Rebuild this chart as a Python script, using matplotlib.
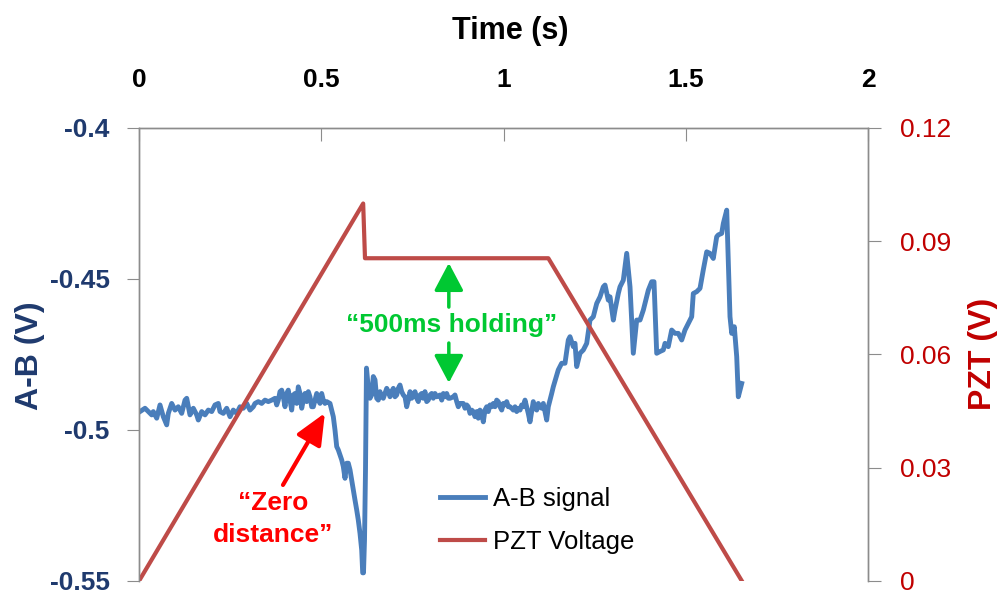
import numpy as np
import matplotlib
matplotlib.use("Agg")
import matplotlib.pyplot as plt

plt.rcParams['font.family'] = ['Liberation Sans Narrow', 'Liberation Sans', 'DejaVu Sans']

# A-B photodiode signal (V) against time (s)
ab_time = [
    0.0027, 0.0165, 0.0255, 0.0348, 0.0392, 0.0486, 0.0576, 0.0667, 0.0760, 0.0804,
    0.0897, 0.0988, 0.1078, 0.1171, 0.1262, 0.1309, 0.1399, 0.1490, 0.1583, 0.1627,
    0.1720, 0.1811, 0.1901, 0.1995, 0.2085, 0.2176, 0.2222, 0.2313, 0.2406, 0.2497,
    0.2587, 0.2680, 0.2771, 0.2862, 0.2955, 0.3045, 0.3136,
    0.3182, 0.3273, 0.3366, 0.3457, 0.3547, 0.3641, 0.3731, 0.3778, 0.3822, 0.3868,
    0.3915, 0.3959, 0.4006, 0.4052, 0.4096, 0.4143, 0.4189, 0.4233, 0.4280, 0.4327,
    0.4370, 0.4417, 0.4464, 0.4508, 0.4554, 0.4601, 0.4645, 0.4691, 0.4738, 0.4782,
    0.4829, 0.4875, 0.4919, 0.4966, 0.5012, 0.5056, 0.5103, 0.5150, 0.5240,
    0.5331, 0.5377, 0.5424, 0.5468, 0.5561, 0.5605, 0.5652, 0.5698, 0.5742, 0.5789,
    0.5835, 0.5879, 0.5926, 0.5973, 0.6016, 0.6063, 0.6110, 0.6137, 0.6159, 0.6187,
    0.6214, 0.6241,
    0.6291, 0.6337, 0.6384, 0.6428, 0.6475, 0.6521, 0.6565, 0.6612, 0.6658, 0.6702,
    0.6749, 0.6796, 0.6840, 0.6886, 0.6933, 0.6977, 0.7023, 0.7070, 0.7114, 0.7160,
    0.7207, 0.7251, 0.7298, 0.7344, 0.7388, 0.7435, 0.7482, 0.7525, 0.7572, 0.7619,
    0.7663, 0.7709, 0.7756, 0.7800, 0.7846, 0.7893, 0.7937, 0.7984, 0.8030, 0.8074,
    0.8121, 0.8167, 0.8258, 0.8305, 0.8349, 0.8395, 0.8442, 0.8486,
    0.8532, 0.8623, 0.8669, 0.8716, 0.8760, 0.8807, 0.8897, 0.8944, 0.8990, 0.9034,
    0.9081, 0.9128, 0.9171, 0.9218, 0.9265, 0.9309, 0.9355, 0.9402, 0.9446, 0.9492,
    0.9539, 0.9583, 0.9630, 0.9676, 0.9720, 0.9767, 0.9813, 0.9857, 0.9904, 0.9951,
    0.9995, 1.0041, 1.0088, 1.0132, 1.0178, 1.0225, 1.0269, 1.0316, 1.0362, 1.0406,
    1.0453, 1.0499, 1.0543, 1.0590, 1.0636, 1.0680, 1.0727, 1.0774, 1.0817, 1.0864,
    1.0911, 1.0955, 1.1001, 1.1048, 1.1092, 1.1139, 1.1185, 1.1229, 1.1276, 1.1322,
    1.1366, 1.1503, 1.1596, 1.1687, 1.1778, 1.1824, 1.1915, 1.1962, 1.2008, 1.2099,
    1.2190, 1.2283, 1.2373, 1.2464, 1.2557, 1.2648, 1.2738, 1.2785, 1.2875, 1.2922,
    1.3013, 1.3059, 1.3150, 1.3196, 1.3287, 1.3380, 1.3471, 1.3561, 1.3654, 1.3745,
    1.3836, 1.3882, 1.3973, 1.4066, 1.4129, 1.4203, 1.4294, 1.4384, 1.4431, 1.4521,
    1.4614, 1.4705, 1.4796, 1.4889, 1.4979, 1.5070, 1.5163, 1.5207, 1.5300, 1.5391,
    1.5481, 1.5575, 1.5665, 1.5756, 1.5849, 1.5893, 1.5986, 1.6031, 1.6124, 1.6214,
    1.6261, 1.6332, 1.6398, 1.6442, 1.6488, 1.6535,
]
ab_signal = [
    -0.4939, -0.4928, -0.4939, -0.4950, -0.4939, -0.4961, -0.4917, -0.4956, -0.4983, -0.4945,
    -0.4912, -0.4934, -0.4923, -0.4945, -0.4901, -0.4895, -0.4950, -0.4928, -0.4950, -0.4967,
    -0.4939, -0.4950, -0.4934, -0.4939, -0.4917, -0.4912, -0.4939, -0.4945, -0.4928, -0.4956,
    -0.4934, -0.4945, -0.4923, -0.4928, -0.4912, -0.4934, -0.4923,
    -0.4912, -0.4906, -0.4912, -0.4901, -0.4906, -0.4901, -0.4895, -0.4917, -0.4901, -0.4873,
    -0.4868, -0.4890, -0.4923, -0.4879, -0.4868, -0.4901, -0.4934, -0.4884, -0.4879, -0.4912,
    -0.4857, -0.4879, -0.4928, -0.4901, -0.4879, -0.4906, -0.4873, -0.4890, -0.4923, -0.4923,
    -0.4901, -0.4879, -0.4901, -0.4912, -0.4879, -0.4901, -0.4912, -0.4906, -0.4912,
    -0.4956, -0.5000, -0.5055, -0.5066, -0.5099, -0.5121, -0.5160, -0.5110, -0.5110, -0.5132,
    -0.5166, -0.5199, -0.5232, -0.5265, -0.5298, -0.5342, -0.5398, -0.5473, -0.5473, -0.5364,
    -0.5132, -0.4795,
    -0.4862, -0.4895, -0.4884, -0.4823, -0.4834, -0.4895, -0.4901, -0.4873, -0.4890, -0.4895,
    -0.4879, -0.4862, -0.4873, -0.4890, -0.4873, -0.4862, -0.4890, -0.4884, -0.4862, -0.4851,
    -0.4873, -0.4884, -0.4890, -0.4923, -0.4901, -0.4873, -0.4895, -0.4884, -0.4873, -0.4895,
    -0.4906, -0.4884, -0.4879, -0.4895, -0.4873, -0.4906, -0.4901, -0.4884, -0.4879, -0.4895,
    -0.4879, -0.4890, -0.4884, -0.4901, -0.4879, -0.4890, -0.4879, -0.4895,
    -0.4895, -0.4890, -0.4884, -0.4906, -0.4923, -0.4912, -0.4912, -0.4928, -0.4917, -0.4923,
    -0.4945, -0.4934, -0.4939, -0.4956, -0.4939, -0.4961, -0.4934, -0.4945, -0.4973, -0.4934,
    -0.4923, -0.4939, -0.4917, -0.4923, -0.4912, -0.4923, -0.4901, -0.4906, -0.4923, -0.4934,
    -0.4912, -0.4917, -0.4906, -0.4923, -0.4923, -0.4928, -0.4934, -0.4923, -0.4939, -0.4928,
    -0.4934, -0.4917, -0.4923, -0.4901, -0.4923, -0.4945, -0.4973, -0.4939, -0.4906, -0.4928,
    -0.4934, -0.4912, -0.4923, -0.4928, -0.4912, -0.4939, -0.4967, -0.4923, -0.4901, -0.4879,
    -0.4857, -0.4801, -0.4779, -0.4779, -0.4702, -0.4691, -0.4724, -0.4713, -0.4790, -0.4746,
    -0.4735, -0.4713, -0.4636, -0.4625, -0.4581, -0.4559, -0.4526, -0.4520, -0.4570, -0.4559,
    -0.4636, -0.4603, -0.4548, -0.4526, -0.4504, -0.4415, -0.4526, -0.4746, -0.4636, -0.4636,
    -0.4603, -0.4581, -0.4537, -0.4509, -0.4509, -0.4746, -0.4740, -0.4735, -0.4713, -0.4724,
    -0.4669, -0.4680, -0.4680, -0.4702, -0.4669, -0.4647, -0.4625, -0.4548, -0.4542, -0.4531,
    -0.4470, -0.4410, -0.4415, -0.4432, -0.4360, -0.4354, -0.4349, -0.4316, -0.4272, -0.4625,
    -0.4680, -0.4658, -0.4757, -0.4890, -0.4868, -0.4846,
]

# PZT drive voltage: ramp up, 500 ms hold, ramp down
pzt_time = [0.0, 0.615, 0.620, 1.123, 1.654]
pzt_volt = [0.0, 0.100, 0.0855, 0.0855, 0.0]

x_ticks = [0, 0.5, 1, 1.5, 2]
x_labels = ["0", "0.5", "1", "1.5", "2"]
ab_ticks = [-0.55, -0.5, -0.45, -0.4]
ab_labels = ["-0.55", "-0.5", "-0.45", "-0.4"]
pzt_ticks = [0, 0.03, 0.06, 0.09, 0.12]
pzt_labels = ["0", "0.03", "0.06", "0.09", "0.12"]

BLUE = "#4A7EBB"
RED = "#BE4B48"
NAVY = "#1F3A6E"
DARKRED = "#C00000"
GREEN = "#00C832"
GRID = "#8C8C8C"

fig = plt.figure(figsize=(10.05, 5.95), dpi=100)
ax = fig.add_axes([139 / 1005, 14 / 595, 729 / 1005, 453 / 595])
ax2 = ax.twinx()

lab, = ax.plot(ab_time, ab_signal, color=BLUE, lw=3.5, solid_joinstyle='round', label="A-B signal")
lpzt, = ax2.plot(pzt_time, pzt_volt, color=RED, lw=3.0, label="PZT Voltage")

ax.set_xlim(0, 2)
ax.set_ylim(-0.55, -0.4)
ax2.set_ylim(0, 0.12)

for a in (ax, ax2):
    for s in a.spines.values():
        s.set_color(GRID)
        s.set_linewidth(1.0)
    a.spines['bottom'].set_visible(False)

ax.xaxis.tick_top()
ax.set_xticks(x_ticks)
ax.set_xticklabels(x_labels, fontsize=19, fontweight='bold')
ax.tick_params(axis='x', direction='in', length=9, color=GRID, pad=26)

ax.set_yticks(ab_ticks)
ax.set_yticklabels(ab_labels, fontsize=19, fontweight='bold', color=NAVY)
ax.tick_params(axis='y', direction='out', length=9, color=GRID, pad=12)

ax2.set_yticks(pzt_ticks)
ax2.set_yticklabels(pzt_labels, fontsize=19, color=DARKRED)
ax2.tick_params(axis='y', direction='out', length=9, color=GRID, pad=14)

fig.text(510 / 1005, 1 - 31 / 595, "Time (s)", ha='center', va='center',
         fontsize=22, fontweight='bold')
fig.text(30 / 1005, 1 - 356 / 595, "A-B (V)", ha='center', va='center',
         rotation=90, fontsize=23, fontweight='bold', color=NAVY)
fig.text(983 / 1005, 1 - 354 / 595, "PZT (V)", ha='center', va='center',
         rotation=90, fontsize=23, fontweight='bold', color=DARKRED)

# holding annotation with arrows pointing to both traces
ax.text(0.859, -0.4652, "\u201c500ms holding\u201d", ha='center', va='center',
        fontsize=19, fontweight='bold', color=GREEN)
green_arrow = dict(arrowstyle='-|>,head_width=0.45,head_length=0.85', color=GREEN,
                   lw=2.5, mutation_scale=20, shrinkA=0, shrinkB=0)
ax.annotate("", xy=(0.850, -0.4447), xytext=(0.850, -0.4593), arrowprops=green_arrow)
ax.annotate("", xy=(0.850, -0.4844), xytext=(0.850, -0.4712), arrowprops=green_arrow)

ax.text(0.368, -0.5295, "\u201cZero\ndistance\u201d", ha='center', va='center',
        fontsize=19, fontweight='bold', color="#FF0000", linespacing=1.4)
ax.annotate("", xy=(0.510, -0.4944), xytext=(0.395, -0.5182),
            arrowprops=dict(arrowstyle='-|>,head_width=0.42,head_length=0.95',
                            color="#FF0000", lw=3, mutation_scale=20,
                            shrinkA=0, shrinkB=0))

ax2.legend(handles=[lab, lpzt], loc='upper left', bbox_to_anchor=(440 / 1005, 1 - 487 / 595),
           bbox_transform=fig.transFigure, frameon=False, fontsize=18.5,
           handlelength=1.75, handletextpad=0.3, labelspacing=0.75, borderpad=0,
           borderaxespad=0)

fig.savefig("out.png", dpi=100)
